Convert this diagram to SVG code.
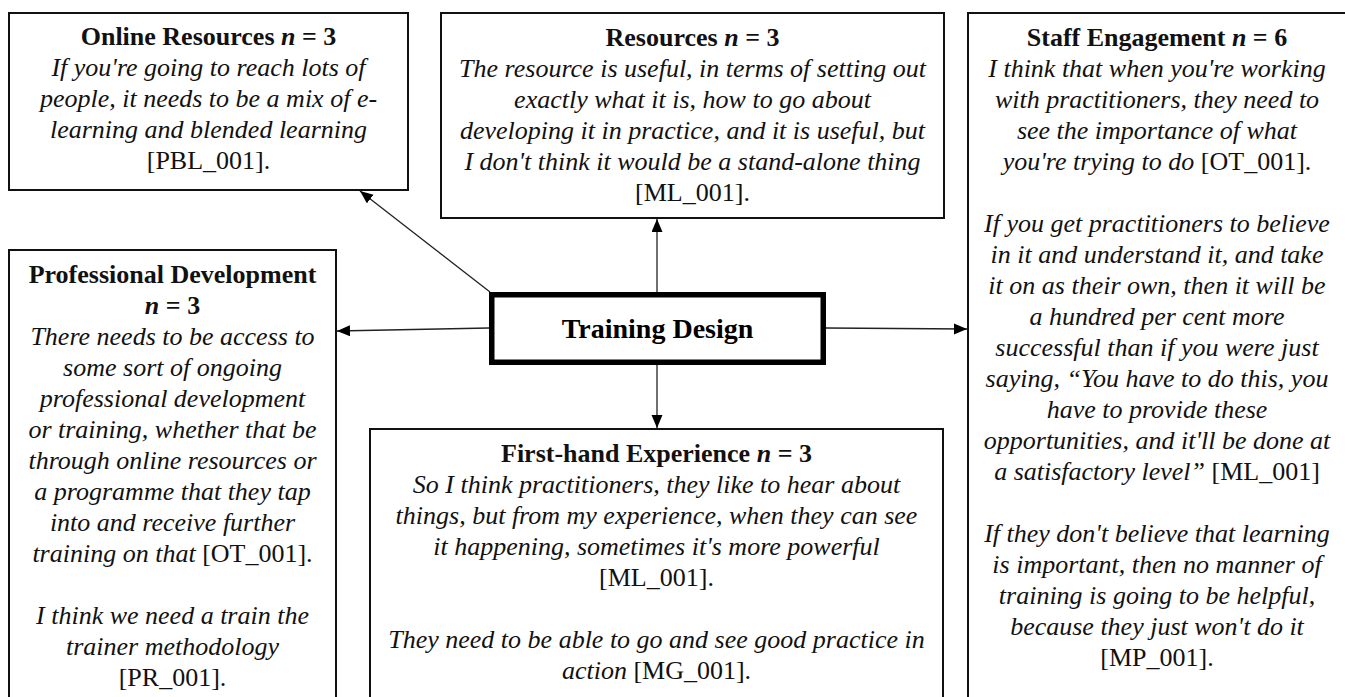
<svg xmlns="http://www.w3.org/2000/svg" width="1345" height="697" viewBox="0 0 1345 697">
<defs>
<style>
.box{fill:#fff;stroke:#111;stroke-width:2}
.main{fill:#fff;stroke:#000;stroke-width:5.5}
.tx{font-family:"Liberation Serif","Times New Roman",serif;font-size:26px;fill:#111;text-anchor:middle}
.bd{font-weight:bold}
.it{font-style:italic}
.bi{font-weight:bold;font-style:italic}
.rg{font-style:normal;font-weight:normal}
.ttl{font-family:"Liberation Serif","Times New Roman",serif;font-size:28px;font-weight:bold;fill:#000;text-anchor:middle}
.con{stroke:#222;stroke-width:1.3;fill:none;marker-end:url(#ah)}
</style>
<marker id="ah" markerUnits="userSpaceOnUse" markerWidth="14" markerHeight="12" refX="13" refY="5.5" orient="auto">
<path d="M0,0 L13,5.5 L0,11 z" fill="#000"/>
</marker>
</defs>
<rect width="1345" height="697" fill="#fff"/>

<g id="connectors">
<line class="con" x1="490" y1="292" x2="360" y2="191"/>
<line class="con" x1="657" y1="292" x2="657" y2="219"/>
<line class="con" x1="489" y1="328" x2="337" y2="331"/>
<line class="con" x1="826" y1="328" x2="967" y2="329"/>
<line class="con" x1="657" y1="365" x2="657" y2="428"/>
</g>

<g id="online-resources">
<rect class="box" x="9" y="13" width="399" height="177"/>
<text class="tx" x="208.5" y="45"><tspan class="bd">Online Resources </tspan><tspan class="bi">n</tspan><tspan class="bd"> = 3</tspan></text>
<text class="tx it" x="208.5" y="76">If you're going to reach lots of</text>
<text class="tx it" x="208.5" y="107">people, it needs to be a mix of e-</text>
<text class="tx it" x="208.5" y="138">learning and blended learning</text>
<text class="tx" x="208.5" y="169">[PBL_001].</text>
</g>

<g id="resources">
<rect class="box" x="441" y="13" width="503" height="205"/>
<text class="tx" x="692.5" y="46"><tspan class="bd">Resources </tspan><tspan class="bi">n</tspan><tspan class="bd"> = 3</tspan></text>
<text class="tx it" x="692.5" y="77">The resource is useful, in terms of setting out</text>
<text class="tx it" x="692.5" y="108">exactly what it is, how to go about</text>
<text class="tx it" x="692.5" y="139">developing it in practice, and it is useful, but</text>
<text class="tx it" x="692.5" y="170">I don't think it would be a stand-alone thing</text>
<text class="tx" x="692.5" y="201">[ML_001].</text>
</g>

<g id="staff-engagement">
<rect class="box" x="968" y="13" width="390" height="700"/>
<text class="tx" x="1157" y="46"><tspan class="bd">Staff Engagement </tspan><tspan class="bi">n</tspan><tspan class="bd"> = 6</tspan></text>
<text class="tx it" x="1157" y="77">I think that when you're working</text>
<text class="tx it" x="1157" y="108">with practitioners, they need to</text>
<text class="tx it" x="1157" y="139">see the importance of what</text>
<text class="tx" x="1157" y="170"><tspan class="it">you're trying to do </tspan>[OT_001].</text>
<text class="tx it" x="1157" y="232">If you get practitioners to believe</text>
<text class="tx it" x="1157" y="263">in it and understand it, and take</text>
<text class="tx it" x="1157" y="294">it on as their own, then it will be</text>
<text class="tx it" x="1157" y="325">a hundred per cent more</text>
<text class="tx it" x="1157" y="356">successful than if you were just</text>
<text class="tx it" x="1157" y="387">saying, “You have to do this, you</text>
<text class="tx it" x="1157" y="418">have to provide these</text>
<text class="tx it" x="1157" y="449">opportunities, and it'll be done at</text>
<text class="tx" x="1157" y="480"><tspan class="it">a satisfactory level”</tspan> [ML_001]</text>
<text class="tx it" x="1157" y="542">If they don't believe that learning</text>
<text class="tx it" x="1157" y="573">is important, then no manner of</text>
<text class="tx it" x="1157" y="604">training is going to be helpful,</text>
<text class="tx it" x="1157" y="635">because they just won't do it</text>
<text class="tx" x="1157" y="666">[MP_001].</text>
</g>

<g id="professional-development">
<rect class="box" x="9" y="250" width="327" height="460"/>
<text class="tx bd" x="172.5" y="283">Professional Development</text>
<text class="tx" x="172.5" y="314"><tspan class="bi">n</tspan><tspan class="bd"> = 3</tspan></text>
<text class="tx it" x="172.5" y="345">There needs to be access to</text>
<text class="tx it" x="172.5" y="376">some sort of ongoing</text>
<text class="tx it" x="172.5" y="407">professional development</text>
<text class="tx it" x="172.5" y="438">or training, whether that be</text>
<text class="tx it" x="172.5" y="469">through online resources or</text>
<text class="tx it" x="172.5" y="500">a programme that they tap</text>
<text class="tx it" x="172.5" y="531">into and receive further</text>
<text class="tx" x="172.5" y="562"><tspan class="it">training on that </tspan>[OT_001].</text>
<text class="tx it" x="172.5" y="624">I think we need a train the</text>
<text class="tx it" x="172.5" y="655">trainer methodology</text>
<text class="tx" x="172.5" y="686">[PR_001].</text>
</g>

<g id="first-hand-experience">
<rect class="box" x="370" y="429" width="573" height="290"/>
<text class="tx" x="656.5" y="462"><tspan class="bd">First-hand Experience </tspan><tspan class="bi">n</tspan><tspan class="bd"> = 3</tspan></text>
<text class="tx it" x="656.5" y="493">So I think practitioners, they like to hear about</text>
<text class="tx it" x="656.5" y="524">things, but from my experience, when they can see</text>
<text class="tx it" x="656.5" y="555">it happening, sometimes it's more powerful</text>
<text class="tx" x="656.5" y="586">[ML_001].</text>
<text class="tx it" x="656.5" y="648">They need to be able to go and see good practice in</text>
<text class="tx" x="656.5" y="679"><tspan class="it">action</tspan> [MG_001].</text>
</g>

<g id="training-design">
<rect class="main" x="491.75" y="294.75" width="331.5" height="67.5"/>
<text class="ttl" x="657.5" y="338">Training Design</text>
</g>
</svg>
